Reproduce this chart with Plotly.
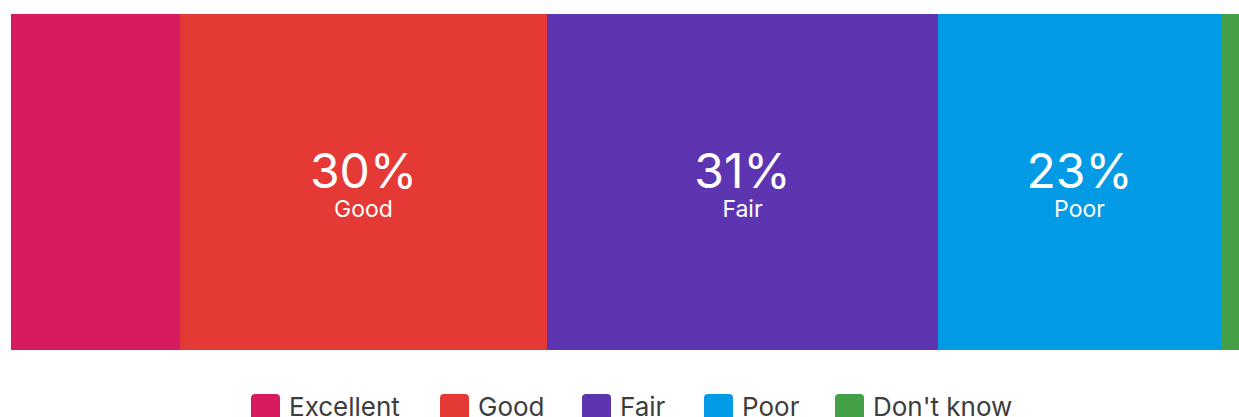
import plotly.graph_objects as go

# ---- data ----
categories = ["Excellent", "Good", "Fair", "Poor", "Don't know"]
values = [13.7, 29.9, 31.8, 23.0, 1.6]
pct_labels = ["", "30%", "31%", "23%", ""]
colors = ["#D81B60", "#E53935", "#5E35B1", "#039BE5", "#43A047"]

W, H = 1239, 417
L, R, T, B = 11, 0, 14, 67
plot_w = W - L - R
plot_h = H - T - B

FONT = "Inter, Roboto, sans-serif"

fig = go.Figure()
for cat, val, lab, col in zip(categories, values, pct_labels, colors):
    txt = (f"<span style='font-size:48px'>{lab}</span><br>{cat}") if lab else ""
    fig.add_trace(go.Bar(
        y=["row"], x=[val], orientation="h", name=cat,
        marker=dict(color=col, line=dict(width=0)),
        text=[txt], textposition="inside", insidetextanchor="middle",
        textangle=0, constraintext="none",
        textfont=dict(color="white", size=23, family=FONT),
        showlegend=False, hoverinfo="skip",
    ))

# x range: 12.3 px per unit across the plot width (last segment runs past the edge)
x_max = plot_w / 12.3

fig.update_layout(
    width=W, height=H,
    margin=dict(l=L, r=R, t=T, b=B, pad=0),
    barmode="stack", bargap=0,
    paper_bgcolor="white", plot_bgcolor="white",
    xaxis=dict(range=[0, x_max], visible=False, fixedrange=True),
    yaxis=dict(range=[-0.5, 0.5], visible=False, fixedrange=True),
)

# ---- custom legend (rounded squares + labels), positions in window pixels ----
def px_x(px):
    return (px - L) / plot_w

def px_y(py):
    return (H - B - py) / plot_h

def rounded_square(x0, y0, size, r):
    # path in paper coordinates built from pixel corners
    x1, y1 = x0 + size, y0 + size
    pts = [
        ("M", x0 + r, y0), ("L", x1 - r, y0), ("Q", x1, y0, x1, y0 + r),
        ("L", x1, y1 - r), ("Q", x1, y1, x1 - r, y1), ("L", x0 + r, y1),
        ("Q", x0, y1, x0, y1 - r), ("L", x0, y0 + r), ("Q", x0, y0, x0 + r, y0),
    ]
    parts = []
    for p in pts:
        cmd, coords = p[0], p[1:]
        xy = []
        for i in range(0, len(coords), 2):
            xy.append(f"{px_x(coords[i]):.5f},{px_y(coords[i + 1]):.5f}")
        parts.append(cmd + " ".join(xy))
    return " ".join(parts) + " Z"

legend_left = [251, 440, 582, 704, 835]
sq = 29
sq_top = 394
for cat, col, lx in zip(categories, colors, legend_left):
    fig.add_shape(type="path", xref="paper", yref="paper",
                  path=rounded_square(lx, sq_top, sq, 4),
                  fillcolor=col, line=dict(width=0), layer="above")
    fig.add_annotation(xref="paper", yref="paper", x=px_x(lx + sq + 7),
                       y=px_y(sq_top + 12), xanchor="left", yanchor="middle",
                       text=cat, showarrow=False,
                       font=dict(size=26, color="#3d3d3d", family=FONT))

fig.write_html(
    "out.html",
    config={"displayModeBar": False},
    post_script="document.body.style.margin='0';document.body.style.overflow='hidden';",
)
